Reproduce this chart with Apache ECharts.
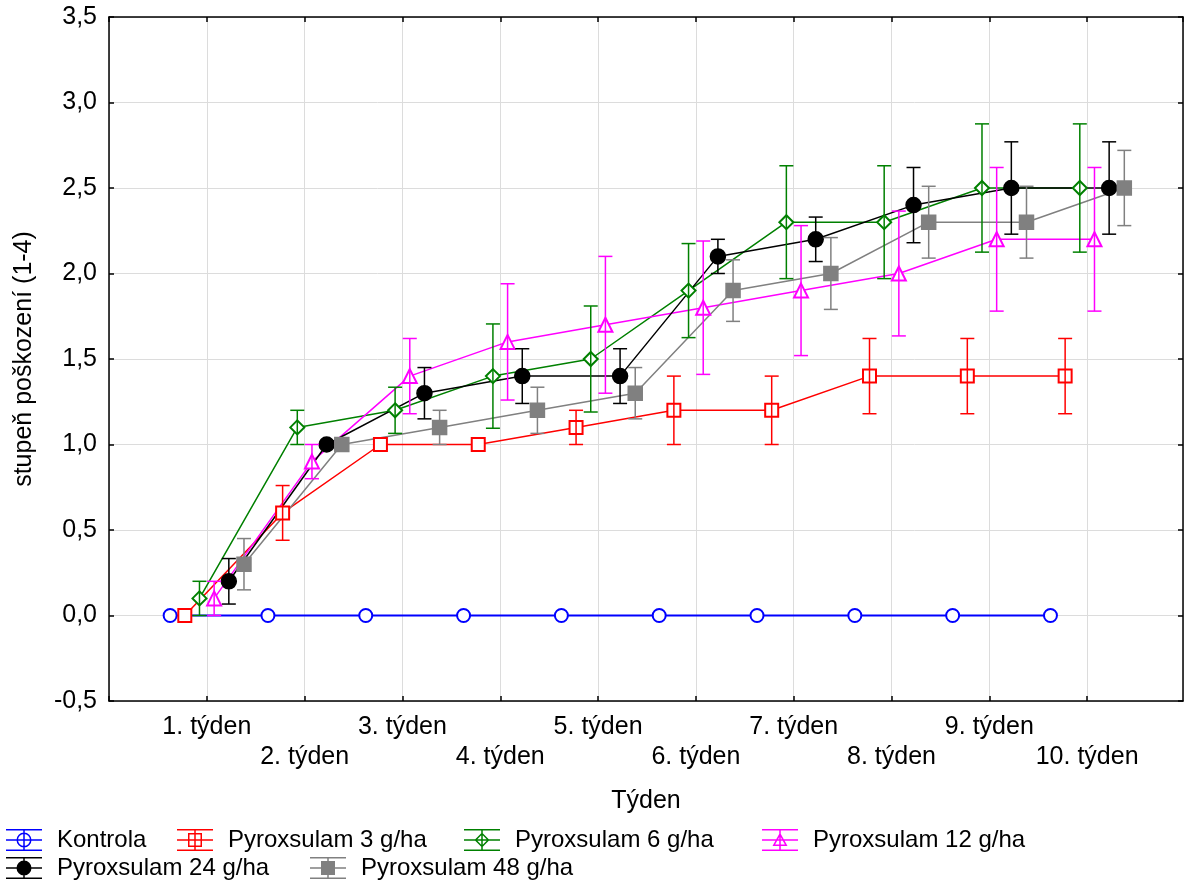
<!DOCTYPE html>
<html>
<head>
<meta charset="utf-8">
<script src="https://cdn.jsdelivr.net/npm/echarts@6/dist/echarts.min.js"></script>
<style>html,body{margin:0;padding:0;background:#fff}#c{width:1184px;height:883px}</style>
</head>
<body>
<div id="c"></div>
<script>
// ---- data ----
const weeks = [1, 2, 3, 4, 5, 6, 7, 8, 9, 10];
const weekLabels = ['1. týden', '2. týden', '3. týden', '4. týden', '5. týden',
                    '6. týden', '7. týden', '8. týden', '9. týden', '10. týden'];
const seriesNames = ['Kontrola', 'Pyroxsulam 3 g/ha', 'Pyroxsulam 6 g/ha',
                     'Pyroxsulam 12 g/ha', 'Pyroxsulam 24 g/ha', 'Pyroxsulam 48 g/ha'];
const kontrola    = [0, 0, 0, 0, 0, 0, 0, 0, 0, 0];
const kontrolaErr = [0, 0, 0, 0, 0, 0, 0, 0, 0, 0];
const p3    = [0, 0.6, 1.0, 1.0, 1.1, 1.2, 1.2, 1.4, 1.4, 1.4];
const p3Err = [0, 0.16, 0, 0, 0.1, 0.2, 0.2, 0.22, 0.22, 0.22];
const p6    = [0.1, 1.1, 1.2, 1.4, 1.5, 1.9, 2.3, 2.3, 2.5, 2.5];
const p6Err = [0.1, 0.1, 0.135, 0.305, 0.31, 0.275, 0.33, 0.33, 0.375, 0.375];
const p12    = [0.1, 0.9, 1.4, 1.6, 1.7, 1.8, 1.9, 2.0, 2.2, 2.2];
const p12Err = [0.1, 0.1, 0.22, 0.34, 0.4, 0.39, 0.38, 0.365, 0.42, 0.42];
const p24    = [0.2, 1.0, 1.3, 1.4, 1.4, 2.1, 2.2, 2.4, 2.5, 2.5];
const p24Err = [0.133, 0, 0.15, 0.16, 0.16, 0.1, 0.13, 0.22, 0.27, 0.27];
const p48    = [0.3, 1.0, 1.1, 1.2, 1.3, 1.9, 2.0, 2.3, 2.3, 2.5];
const p48Err = [0.15, 0, 0.1, 0.135, 0.15, 0.18, 0.21, 0.21, 0.21, 0.22];

// ---- styling / layout ----
const FONT = 'Liberation Sans, Arial, sans-serif';
const FS = 25;      // axis text
const LFS = 24;     // legend text
const cfg = [
  { vals: kontrola, err: kontrolaErr, color: '#0000ff', symbol: 'emptyCircle', size: 13, off: -0.375, marker: 'ocircle', lw: 2 },
  { vals: p3,  err: p3Err,  color: '#ff0000', symbol: 'emptyRect', size: 13, off: -0.225, marker: 'osquare', lw: 1.5 },
  { vals: p6,  err: p6Err,  color: '#008000', symbol: 'emptyDiamond', size: 14, off: -0.075, marker: 'odiamond', lw: 1.5 },
  { vals: p12, err: p12Err, color: '#ff00ff', symbol: 'emptyTriangle', size: 14, off: 0.075, marker: 'otriangle', lw: 1.5 },
  { vals: p24, err: p24Err, color: '#000000', symbol: 'circle', size: 15, off: 0.225, marker: 'fcircle', lw: 1.5 },
  { vals: p48, err: p48Err, color: '#808080', symbol: 'rect', size: 14, off: 0.38, marker: 'fsquare', lw: 1.5 }
];
const legendPos = [[6, 828], [177, 828], [464, 828], [762, 828], [6, 856], [310, 856]];

// legend icon path builder (box 36 x 22)
function rectCW(x, y, w, h) { return `M${x} ${y}h${w}v${h}h${-w}Z`; }
function rectCCW(x, y, w, h) { return `M${x} ${y}v${h}h${w}v${-h}Z`; }
function circ(cx, cy, r, cw) {
  const s = cw ? 1 : 0;
  return `M${cx - r} ${cy}A${r} ${r} 0 1 ${s} ${cx + r} ${cy}A${r} ${r} 0 1 ${s} ${cx - r} ${cy}Z`;
}
function makeIcon(marker) {
  let p = rectCW(0, 0, 36, 1.5) + rectCW(0, 10.25, 36, 1.5) + rectCW(0, 20.5, 36, 1.5) + rectCW(17.25, 0, 1.5, 22);
  if (marker === 'ocircle') p += circ(18, 11, 7.5, true) + circ(18, 11, 6, false);
  if (marker === 'fcircle') p += circ(18, 11, 7.5, true);
  if (marker === 'osquare') p += rectCW(11, 4, 14, 14) + rectCCW(12.5, 5.5, 11, 11);
  if (marker === 'fsquare') p += rectCW(11, 4, 14, 14);
  if (marker === 'odiamond') p += 'M18 3.5L25.5 11L18 18.5L10.5 11Z' + 'M18 5.6L12.6 11L18 16.4L23.4 11Z';
  if (marker === 'otriangle') p += 'M18 3.5L25.5 17L10.5 17Z' + 'M18 6.7L13.1 15.5L22.9 15.5Z';
  return 'path://' + p;
}

const series = [];
cfg.forEach((c, i) => {
  series.push({
    name: seriesNames[i],
    type: 'line',
    xAxisIndex: 0, yAxisIndex: 0,
    data: weeks.map((w, k) => [w + c.off, c.vals[k]]),
    symbol: c.symbol,
    symbolSize: c.size,
    showSymbol: true,
    lineStyle: { color: c.color, width: c.lw },
    itemStyle: { color: c.color, borderColor: c.color, borderWidth: 1.5 },
    emphasis: { disabled: true },
    animation: false,
    z: 2
  });
});
cfg.forEach((c, i) => {
  series.push({
    name: seriesNames[i] + ' (SE)',
    type: 'custom',
    xAxisIndex: 0, yAxisIndex: 0,
    data: weeks.map((w, k) => [w + c.off, c.vals[k] - c.err[k], c.vals[k] + c.err[k], c.err[k]]).filter(d => d[3] > 0),
    renderItem: function (params, api) {
      const x = api.value(0);
      const lo = api.coord([x, api.value(1)]);
      const hi = api.coord([x, api.value(2)]);
      const hw = 7;
      const st = { stroke: c.color, lineWidth: 1.5, fill: null };
      return {
        type: 'group',
        children: [
          { type: 'line', shape: { x1: hi[0], y1: hi[1], x2: lo[0], y2: lo[1] }, style: st },
          { type: 'line', shape: { x1: hi[0] - hw, y1: hi[1], x2: hi[0] + hw, y2: hi[1] }, style: st },
          { type: 'line', shape: { x1: lo[0] - hw, y1: lo[1], x2: lo[0] + hw, y2: lo[1] }, style: st }
        ]
      };
    },
    animation: false,
    silent: true,
    z: 3
  });
});

const legends = cfg.map((c, i) => ({
  show: true,
  left: legendPos[i][0],
  top: legendPos[i][1],
  padding: 0,
  selectedMode: false,
  itemWidth: 36,
  itemHeight: 22,
  data: [{
    name: seriesNames[i],
    icon: makeIcon(c.marker),
    itemStyle: { color: c.color, borderWidth: 0, borderColor: 'transparent' }
  }],
  textStyle: { fontFamily: FONT, fontSize: LFS, color: '#000', padding: [0, 0, 0, 10] }
}));

const axisLineStyle = { color: '#000', width: 1.5 };
const X_MAX = 10.98;
const option = {
  backgroundColor: '#fff',
  animation: false,
  textStyle: { fontFamily: FONT },
  grid: { left: 109, right: 1, top: 17, bottom: 182, containLabel: false },
  legend: legends,
  xAxis: [
    {
      type: 'value', min: 0, max: X_MAX, interval: 1, position: 'bottom',
      name: 'Týden', nameLocation: 'middle', nameGap: 88,
      nameTextStyle: { fontFamily: FONT, fontSize: FS, color: '#000' },
      axisLine: { show: true, onZero: false, lineStyle: axisLineStyle },
      axisTick: { show: true, inside: true, length: 5, lineStyle: { color: '#000', width: 1.5 } },
      axisLabel: {
        margin: 11, fontFamily: FONT, fontSize: FS, color: '#000', lineHeight: 30,
        showMaxLabel: false,
        formatter: function (v) {
          const k = Math.round(v);
          if (Math.abs(v - k) > 1e-6 || k < 1 || k > weekLabels.length) return '';
          return (k % 2 === 0 ? '\n' : '') + weekLabels[k - 1];
        }
      },
      splitLine: { show: true, lineStyle: { color: '#dcdcdc', width: 1 } }
    },
    {
      type: 'value', min: 0, max: X_MAX, interval: 1, position: 'top',
      axisLine: { show: true, onZero: false, lineStyle: axisLineStyle },
      axisTick: { show: true, inside: true, length: 5, lineStyle: { color: '#000', width: 1.5 } },
      axisLabel: { show: false },
      splitLine: { show: false }
    }
  ],
  yAxis: [
    {
      type: 'value', min: -0.5, max: 3.5, interval: 0.5, position: 'left',
      name: 'stupeň poškození (1-4)', nameLocation: 'middle', nameGap: 72,
      nameTextStyle: { fontFamily: FONT, fontSize: FS, color: '#000' },
      axisLine: { show: true, onZero: false, lineStyle: axisLineStyle },
      axisTick: { show: true, inside: true, length: 5, lineStyle: { color: '#000', width: 1.5 } },
      axisLabel: {
        margin: 12, fontFamily: FONT, fontSize: FS, color: '#000',
        formatter: v => v.toFixed(1).replace('.', ',')
      },
      splitLine: { show: true, lineStyle: { color: '#dcdcdc', width: 1 } }
    },
    {
      type: 'value', min: -0.5, max: 3.5, interval: 0.5, position: 'right',
      axisLine: { show: true, onZero: false, lineStyle: axisLineStyle },
      axisTick: { show: true, inside: true, length: 5, lineStyle: { color: '#000', width: 1.5 } },
      axisLabel: { show: false },
      splitLine: { show: false }
    }
  ],
  series: series
};

const chart = echarts.init(document.getElementById('c'), null, { renderer: 'canvas' });
chart.setOption(option);
</script>
</body>
</html>
